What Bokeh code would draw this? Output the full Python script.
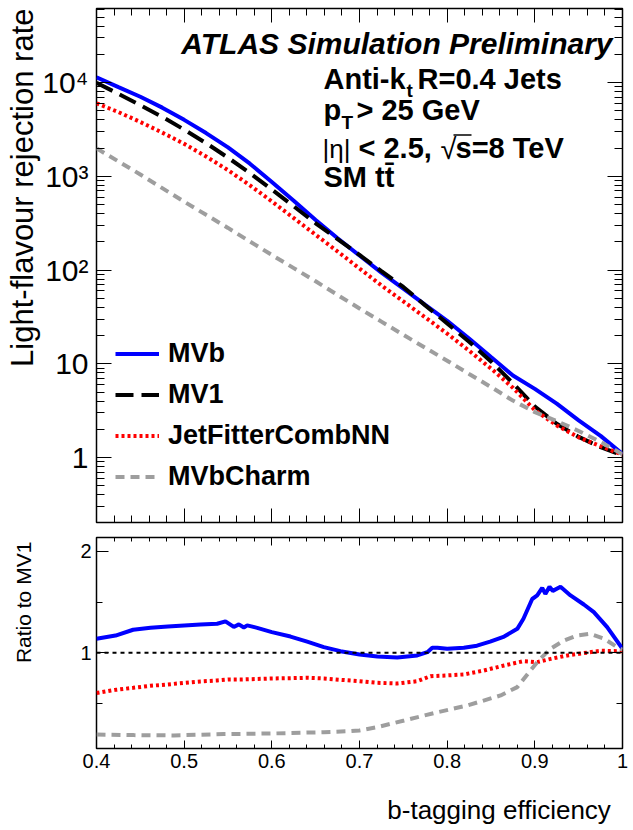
import math
from bokeh.plotting import figure
from bokeh.layouts import column, row
from bokeh.models import (FixedTicker, CustomJSTickFormatter, LogAxis, LinearAxis,
                          Range1d, Label, Legend, LegendItem, Title, Span)
from bokeh.embed import file_html
from bokeh.resources import INLINE

FONT = "Liberation Sans"

# ---------------- data ----------------
eff = [0.400, 0.425, 0.450, 0.475, 0.500, 0.525, 0.550, 0.575, 0.600, 0.625,
       0.650, 0.675, 0.700, 0.725, 0.750, 0.775, 0.800, 0.825, 0.850, 0.875,
       0.900, 0.925, 0.950, 0.975, 1.000]
rej_mvb = [11400, 8956, 7073, 5415, 4013, 2900, 2037, 1367, 872, 551,
           343, 219, 143, 94.0, 63.3, 42.5, 28.8, 18.6, 11.8, 7.50,
           5.40, 3.76, 2.49, 1.70, 1.09]
rej_mv1 = [10000, 7590, 5750, 4315, 3160, 2265, 1585, 1085, 724, 479,
           316, 214, 145, 97.7, 66.1, 42.0, 27.0, 17.2, 10.6, 6.20,
           3.50, 2.29, 1.66, 1.29, 1.05]
rej_jfc = [6030, 4858, 3807, 2934, 2225, 1631, 1165, 803, 541, 359,
           238, 158, 104, 68.7, 46.3, 31.3, 21.0, 13.8, 8.90, 5.55,
           3.20, 2.20, 1.64, 1.32, 1.07]
rej_mvbcharm = [1995, 1445, 1047, 750, 537, 389, 282, 202, 145, 105,
                75.9, 54.3, 38.9, 28.2, 20.4, 14.8, 10.8, 7.80, 5.65, 4.05,
                3.05, 2.45, 1.92, 1.47, 1.08]

ratio_mvb_eff = [0.400, 0.4217, 0.4418, 0.4616, 0.4814, 0.500, 0.5186, 0.5376, 0.5471,
                 0.5566, 0.5624, 0.5681, 0.5719, 0.5833, 0.600, 0.6213, 0.6403, 0.6593,
                 0.6783, 0.700, 0.7203, 0.7431, 0.7659, 0.7774, 0.783, 0.7888, 0.800,
                 0.819, 0.834, 0.849, 0.865, 0.880, 0.887, 0.897, 0.9027, 0.9084, 0.912,
                 0.9167, 0.9205, 0.9293, 0.9407, 0.9559, 0.9673, 0.9825, 1.000]
ratio_mvb = [1.138, 1.17, 1.227, 1.246, 1.26, 1.27, 1.28, 1.286, 1.31,
             1.255, 1.28, 1.25, 1.27, 1.246, 1.204, 1.16, 1.11, 1.056,
             1.016, 0.984, 0.964, 0.954, 0.974, 1.006, 1.05, 1.05, 1.04,
             1.05, 1.07, 1.11, 1.16, 1.236, 1.335, 1.53, 1.565, 1.64, 1.58,
             1.65, 1.61, 1.65, 1.565, 1.476, 1.40, 1.253, 1.04]

ratio_jfc_eff = [0.400, 0.4217, 0.4418, 0.4616, 0.4814, 0.500, 0.5186, 0.5376, 0.5509,
                 0.5662, 0.600, 0.6213, 0.6403, 0.6593, 0.6783, 0.700, 0.7203, 0.7431,
                 0.7659, 0.781, 0.800, 0.819, 0.842, 0.865, 0.887, 0.9027, 0.918,
                 0.937, 0.956, 0.975, 0.994, 1.000]
ratio_jfc = [0.603, 0.635, 0.655, 0.675, 0.688, 0.704, 0.718, 0.727, 0.737,
             0.737, 0.747, 0.75, 0.754, 0.747, 0.734, 0.72, 0.704, 0.698,
             0.72, 0.77, 0.777, 0.787, 0.826, 0.875, 0.918, 0.908, 0.94,
             0.974, 0.997, 1.02, 1.016, 1.016]

ratio_charm_eff = [0.400, 0.4426, 0.4882, 0.5452, 0.600, 0.6593, 0.6897, 0.700, 0.7203,
                   0.751, 0.785, 0.823, 0.861, 0.880, 0.895, 0.906, 0.918, 0.933,
                   0.948, 0.963, 0.979, 0.994, 1.000]
ratio_charm = [0.195, 0.189, 0.186, 0.199, 0.205, 0.218, 0.228, 0.235, 0.268,
               0.333, 0.406, 0.481, 0.58, 0.662, 0.826, 0.94, 1.04, 1.12,
               1.17, 1.187, 1.138, 1.056, 1.03]

series_labels = ["MVb", "MV1", "JetFitterCombNN", "MVbCharm"]
x_ticks = [0.4, 0.5, 0.6, 0.7, 0.8, 0.9, 1.0]

# ---------------- styles ----------------
BLUE, BLACK, RED, GREY = "#0000ff", "#000000", "#ff0000", "#9e9e9e"
styles = {
    "MVb": dict(line_color=BLUE, line_width=4),
    "MV1": dict(line_color=BLACK, line_width=4, line_dash="18 8"),
    "JetFitterCombNN": dict(line_color=RED, line_width=4, line_dash="3 3"),
    "MVbCharm": dict(line_color=GREY, line_width=4, line_dash="9 6"),
}

# frame geometry (pixels)
W = 633
FL, FR = 96, 622
T_TOP, T_BOT = 8, 522
R_TOP, R_BOT = 537, 748
P2_BOTTOM = 782
STRIP = 40
YMIN_T, YMAX_T = 10 ** ((457 - 522) / 93.7), 10 ** ((457 - 8) / 93.7)
YMIN_R, YMAX_R = 1 - (748 - 652.3) / 101.5, 1 + (652.3 - 537) / 101.5
BASE_SHIFT = 0.34   # measured offset of the rendered baseline, in em


def px_x(px):
    return 0.4 + (px - FL) / (FR - FL) * 0.6


def py_top(py):
    lo, hi = math.log10(YMIN_T), math.log10(YMAX_T)
    return 10 ** (hi - (py - T_TOP) / (T_BOT - T_TOP) * (hi - lo))


def style_axis(ax, maj_in, min_in):
    ax.axis_line_color = None
    ax.major_tick_in = maj_in
    ax.major_tick_out = 0
    ax.minor_tick_in = min_in
    ax.minor_tick_out = 0
    ax.major_tick_line_color = "black"
    ax.minor_tick_line_color = "black"
    ax.major_tick_line_width = 1
    ax.minor_tick_line_width = 1
    ax.major_label_text_font = FONT
    ax.major_label_text_color = "black"


def bare_figure(width, height, x_range, y_range):
    f = figure(width=width, height=height, x_range=x_range, y_range=y_range,
               x_axis_location=None, y_axis_location=None,
               output_backend="svg", toolbar_location=None, min_border=0)
    f.grid.visible = False
    f.outline_line_color = None
    return f


blank = CustomJSTickFormatter(code="return '';")

x_minor = [round(0.4 + 0.02 * i, 2) for i in range(31)]
log_major = [1, 10, 100, 1000, 10000]
log_minor = [m * 10 ** e for e in range(-1, 5) for m in range(2, 10)]

# ---------------- top panel ----------------
p1 = figure(width=W, height=530, x_range=Range1d(0.4, 1.0),
            y_range=Range1d(YMIN_T, YMAX_T), y_axis_type="log",
            x_axis_location=None, y_axis_location=None,
            output_backend="svg", toolbar_location=None,
            min_border_left=FL, min_border_right=W - FR,
            min_border_top=T_TOP, min_border_bottom=530 - T_BOT)
p1.grid.visible = False
p1.outline_line_color = "black"
p1.outline_line_width = 1.5

log_fmt = CustomJSTickFormatter(code="""
const sup = {'2':'\u00b2','3':'\u00b3','4':'\u2074','5':'\u2075'};
const e = Math.round(Math.log10(tick));
if (e <= 0) return '1';
if (e == 1) return '10';
return '10' + sup[String(e)];
""")

for side in ["left", "right"]:
    ax = LogAxis(ticker=FixedTicker(ticks=log_major, minor_ticks=log_minor))
    style_axis(ax, 15, 8)
    if side == "left":
        ax.formatter = log_fmt
        ax.major_label_text_font_size = "30px"
        ax.major_label_standoff = 8
    else:
        ax.formatter = blank
        ax.major_label_text_font_size = "0px"
    p1.add_layout(ax, side)

for side in ["above", "below"]:
    ax = LinearAxis(ticker=FixedTicker(ticks=x_ticks, minor_ticks=x_minor),
                    formatter=blank)
    style_axis(ax, 14, 7)
    ax.major_label_text_font_size = "0px"
    p1.add_layout(ax, side)

p1.add_layout(Title(text="Light-flavour rejection rate", align="right",
                    text_font=FONT, text_font_size="31px", text_color="black",
                    text_font_style="normal", standoff=0), "left")

top_series = [rej_mvb, rej_mv1, rej_jfc, rej_mvbcharm]
renderers = []
for name, ys in zip(series_labels, top_series):
    renderers.append(p1.line(eff, ys, **styles[name]))

legend = Legend(items=[LegendItem(label=n, renderers=[r])
                       for n, r in zip(series_labels, renderers)],
                location=(19, 25), orientation="vertical",
                label_text_font=FONT, label_text_font_size="27px",
                label_text_font_style="bold", label_text_color="black",
                glyph_width=44, glyph_height=41, label_height=41,
                label_standoff=9, spacing=0, padding=0, margin=0,
                border_line_color=None, background_fill_alpha=0)
p1.add_layout(legend)


def top_text(txt, px, py, size, style, align="left"):
    p1.add_layout(Label(x=px_x(px), y=py_top(py - BASE_SHIFT * size), text=txt,
                        text_align=align, text_baseline="alphabetic",
                        text_font=FONT, text_font_size=f"{size}px",
                        text_font_style=style, text_color="black"))


top_text("ATLAS Simulation Preliminary", 612, 53, 30, "bold italic", align="right")
pieces = [
    ("Anti-k", 323, 88, 29, "bold"),
    ("t", 406, 96, 19, "bold"),
    ("R=0.4 Jets", 417, 88, 29, "bold"),
    ("p", 323, 119, 29, "bold"),
    ("T", 341, 128, 19, "bold"),
    ("> 25 GeV", 356, 119, 29, "bold"),
    ("|\u03b7|", 322, 157, 26, "normal"),
    ("< 2.5,", 358, 157, 29, "bold"),
    ("\u221a", 440, 158, 29, "normal"),
    ("s=8 TeV", 455, 157, 29, "bold"),
    ("SM tt\u0304", 323, 186, 29, "bold"),
]
for txt, px, py, fs, st in pieces:
    top_text(txt, px, py, fs, st)
# overline of the square root
p1.segment(x0=[px_x(453)], y0=[py_top(134.5)], x1=[px_x(471)], y1=[py_top(134.5)],
           line_color="black", line_width=1.5)

# ---------------- ratio panel ----------------
H2 = P2_BOTTOM - 530
p2 = figure(width=W - STRIP, height=H2, x_range=p1.x_range,
            y_range=Range1d(YMIN_R, YMAX_R),
            x_axis_location=None, y_axis_location=None,
            output_backend="svg", toolbar_location=None,
            min_border_left=FL - STRIP, min_border_right=W - FR,
            min_border_top=R_TOP - 530, min_border_bottom=P2_BOTTOM - R_BOT)
p2.grid.visible = False
p2.outline_line_color = "black"
p2.outline_line_width = 1.5

for side in ["left", "right"]:
    ax = LinearAxis(ticker=FixedTicker(ticks=[1, 2], minor_ticks=[0.5, 1.5]))
    style_axis(ax, 12, 6)
    if side == "left":
        ax.major_label_text_font_size = "20px"
        ax.major_label_standoff = 5
    else:
        ax.formatter = blank
        ax.major_label_text_font_size = "0px"
    p2.add_layout(ax, side)

for side in ["above", "below"]:
    ax = LinearAxis(ticker=FixedTicker(ticks=x_ticks, minor_ticks=x_minor))
    style_axis(ax, 8, 4)
    if side == "below":
        ax.formatter = CustomJSTickFormatter(
            code="return (Math.abs(tick - 1) < 1e-9) ? '1' : tick.toFixed(1);")
        ax.major_label_text_font_size = "20px"
        ax.major_label_standoff = 5
    else:
        ax.formatter = blank
        ax.major_label_text_font_size = "0px"
    p2.add_layout(ax, side)

p2.line(ratio_mvb_eff, ratio_mvb, **styles["MVb"])
p2.line(ratio_jfc_eff, ratio_jfc, **styles["JetFitterCombNN"])
p2.line(ratio_charm_eff, ratio_charm, **styles["MVbCharm"])
p2.add_layout(Span(location=1, dimension="width", line_color="black",
                   line_width=2, line_dash="4 4"))

# strip left of the ratio panel holding its y title (pixel coordinates)
p4 = bare_figure(STRIP, H2, Range1d(0, STRIP), Range1d(0, H2))
p4.add_layout(Label(x=30 - BASE_SHIFT * 21, y=P2_BOTTOM - 535,
                    text="Ratio to MV1", angle=math.pi / 2, text_align="right",
                    text_baseline="alphabetic", text_font=FONT,
                    text_font_size="21px", text_color="black"))

# ---------------- x-axis title strip ----------------
H3 = 830 - P2_BOTTOM
p3 = bare_figure(W, H3, Range1d(0, W), Range1d(H3, 0))
p3.add_layout(Label(x=619, y=(818 - P2_BOTTOM) - BASE_SHIFT * 26,
                    text="b-tagging efficiency", text_align="right",
                    text_baseline="alphabetic", text_font=FONT,
                    text_font_size="26px", text_color="black"))

layout = column(p1, row(p4, p2, spacing=0), p3, spacing=0)
open("out.html", "w", encoding="utf-8").write(file_html(layout, INLINE))
